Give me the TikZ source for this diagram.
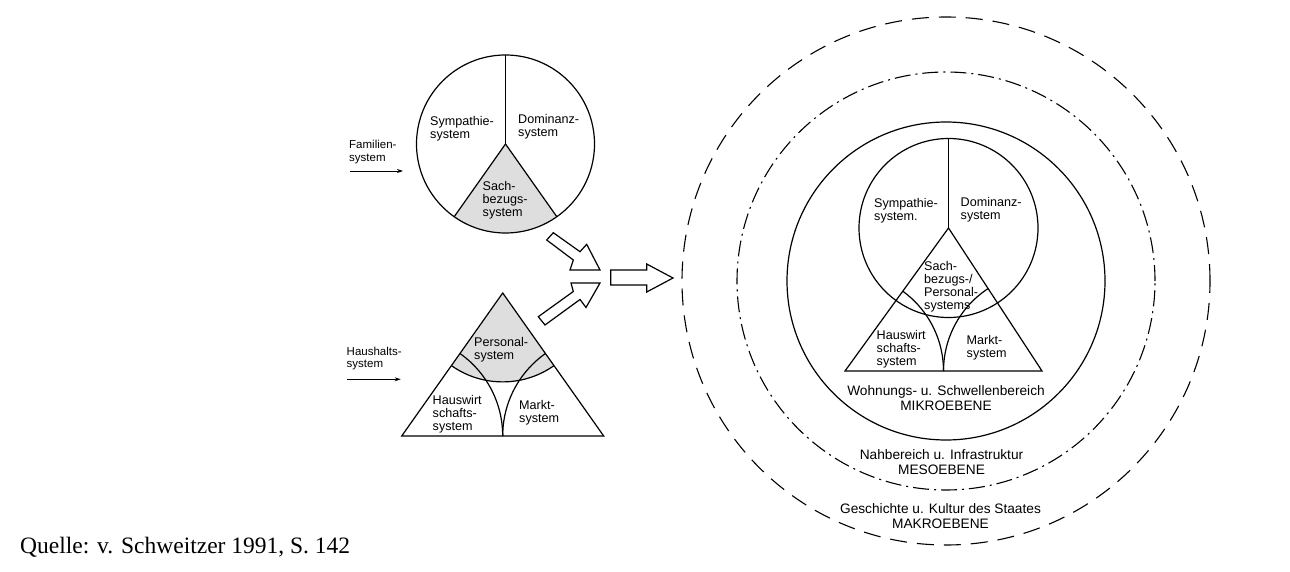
\documentclass[tikz,border=0pt]{standalone}
\usepackage{fontspec}
\setmainfont{Liberation Sans}
\newfontfamily\quellefont{Liberation Serif}
\usetikzlibrary{arrows.meta}
\begin{document}
\begin{tikzpicture}[x=1pt,y=-1pt,
  sys/.style={font=\fontsize{12.6}{13}\selectfont, align=left, inner sep=0pt, anchor=north west},
  side/.style={font=\fontsize{11.5}{12.5}\selectfont, align=left, inner sep=0pt, anchor=north west},
  lvl/.style={font=\fontsize{13.7}{15}\selectfont, align=center, inner sep=0pt, anchor=north},
  ln/.style={line width=1.2pt, line join=miter},
  thinln/.style={line width=0.9pt},
  shadefill/.style={fill=black!13},
  blockarrow/.style={line width=1.2pt, line join=miter, fill=white},
  smallarrow/.style={line width=0.9pt, -{Stealth[length=6pt,width=4pt]}},
  dashedring/.style={line width=1.1pt, dash pattern=on 17pt off 10pt},
  dashdotring/.style={line width=1.1pt, dash pattern=on 16pt off 5pt on 2pt off 5pt}
]
\fill[white] (0,0) rectangle (1290,572);
\useasboundingbox (0,0) rectangle (1290,572);

% ---------------- left: family circle ----------------
\coordinate (C1) at (505.5,144);
\fill[shadefill] (C1) -- ++(-125.2:89pt) arc[start angle=-125.2, end angle=-54.8, radius=89pt] -- cycle;
\draw[ln] (C1) circle[radius=89pt];
\draw[thinln] (C1) -- ++(90:89pt);
\draw[ln] (C1) -- ++(-125.2:89pt);
\draw[ln] (C1) -- ++(-54.8:89pt);
\node[sys] (symp1) at (430,116) {Sympathie-\\system};
\node[sys] (domi1) at (518,114.5) {Dominanz-\\system};
\node[sys] (sach1) at (482.5,181) {Sach-\\bezugs-\\system};

\node[side] (fam) at (349,140) {Familien-\\system};
\coordinate (fa1) at (350,171);
\coordinate (fa2) at (403,171);
\draw[smallarrow] (fa1) -- (fa2);

% ---------------- left: household triangle ----------------
\coordinate (A1) at (502.7,293);
\coordinate (BL1) at (401.7,436);
\coordinate (BR1) at (603.7,436);
\begin{scope}
  \clip (A1) -- (BL1) -- (BR1) -- cycle;
  \fill[shadefill] (A1) circle[radius=88.9pt];
  \draw[ln] (A1) circle[radius=88.9pt];
  \draw[ln] (BL1) circle[radius=101pt];
  \draw[ln] (BR1) circle[radius=101pt];
\end{scope}
\draw[ln] (A1) -- (BL1) -- (BR1) -- cycle;
\node[sys] (pers1) at (474,337) {Personal-\\system};
\node[sys] (haus1) at (432.5,395.5) {Hauswirt\\schafts-\\system};
\node[sys] (mark1) at (519,400.5) {Markt-\\system};

\node[side] (hh) at (346.5,346.5) {Haushalts-\\system};
\coordinate (ha1) at (346.7,379.3);
\coordinate (ha2) at (400.7,379.3);
\draw[smallarrow] (ha1) -- (ha2);

% ---------------- block arrows ----------------
\draw[blockarrow] (546.7,240) -- (573.3,260) -- (570,270) -- (600,270) -- (586.7,244.3) -- (580,251.7) -- (553.3,232.7) -- cycle;
\draw[blockarrow] (538.3,316.7) -- (573.3,291.5) -- (571,283) -- (600,283) -- (586,307.5) -- (580,299.5) -- (545,325) -- cycle;
\draw[blockarrow] (610.7,270) -- (646.7,270) -- (646.7,264) -- (673,278) -- (646.7,292) -- (646.7,285) -- (610.7,285) -- cycle;

% ---------------- right: levels ----------------
\coordinate (O) at (946,281);
\draw[dashedring] (O) circle[radius=264pt];
\draw[dashdotring] (O) circle[radius=209pt];
\draw[ln] (O) circle[radius=159pt];

\coordinate (C2) at (948.5,228);
\coordinate (BL2) at (845,371);
\coordinate (BR2) at (1042,371);
\draw[ln] (C2) circle[radius=89.5pt];
\draw[thinln] (C2) -- ++(90:89.5pt);
\begin{scope}
  \clip (C2) -- (BL2) -- (BR2) -- cycle;
  \draw[ln] (BL2) circle[radius=98.5pt];
  \draw[ln] (BR2) circle[radius=98.5pt];
\end{scope}
\draw[ln] (C2) -- (BL2) -- (BR2) -- cycle;

\node[sys] (symp2) at (874,198) {Sympathie-\\system.};
\node[sys] (domi2) at (960.5,197.5) {Dominanz-\\system};
\node[sys] (sach2) at (924,261) {Sach-\\bezugs-/\\Personal-\\systems};
\node[sys] (haus2) at (876.5,330.5) {Hauswirt\\schafts-\\system};
\node[sys] (mark2) at (966.5,335.5) {Markt-\\system};

\node[lvl] (mikro) at (946,385.5) {Wohnungs- u. Schwellenbereich\\MIKROEBENE};
\node[lvl] (meso) at (941.5,449) {Nahbereich u. Infrastruktur\\MESOEBENE};
\node[lvl] (makro) at (940.5,503) {Geschichte u. Kultur des Staates\\MAKROEBENE};

% ---------------- source ----------------
\node[anchor=base west, inner sep=0pt, font=\quellefont\fontsize{23.5}{26}\selectfont] (quelle) at (20,553) {Quelle: v. Schweitzer 1991, S. 142};
\end{tikzpicture}
\end{document}
